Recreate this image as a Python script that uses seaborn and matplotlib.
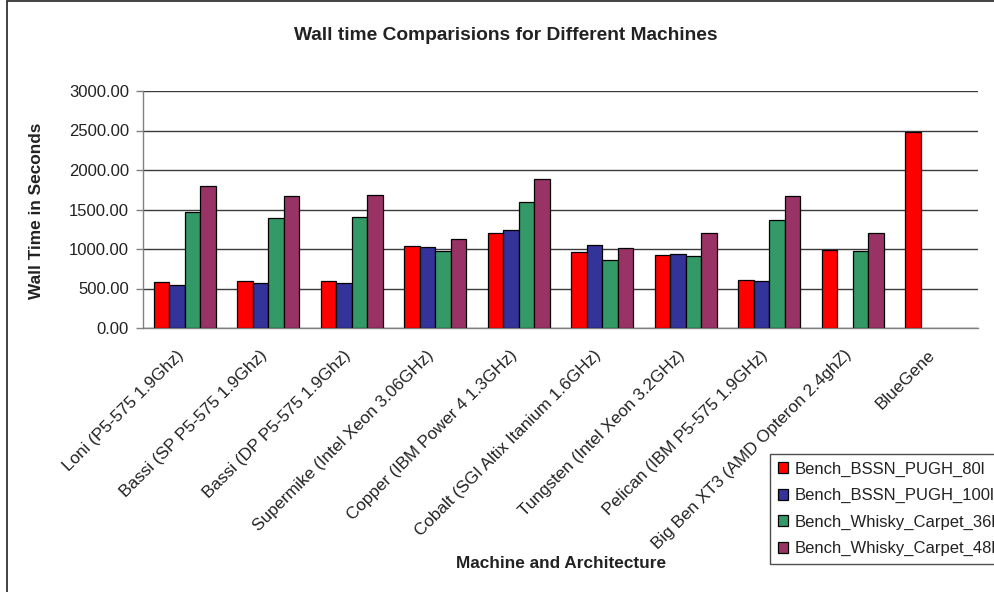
import matplotlib
matplotlib.use("Agg")
import matplotlib.pyplot as plt
import matplotlib.patches as mpatches
import matplotlib.transforms as mtransforms
import numpy as np
import pandas as pd
import seaborn as sns

machines = [
    "Loni (P5-575 1.9Ghz)",
    "Bassi (SP P5-575 1.9Ghz)",
    "Bassi (DP P5-575 1.9Ghz)",
    "Supermike (Intel Xeon 3.06GHz)",
    "Copper (IBM Power 4 1.3GHz)",
    "Cobalt (SGI Altix Itanium 1.6GHz)",
    "Tungsten (Intel Xeon 3.2GHz)",
    "Pelican (IBM P5-575 1.9GHz)",
    "Big Ben XT3 (AMD Opteron 2.4ghZ)",
    "BlueGene",
]
benchmarks = [
    "Bench_BSSN_PUGH_80l",
    "Bench_BSSN_PUGH_100l",
    "Bench_Whisky_Carpet_36l",
    "Bench_Whisky_Carpet_48l",
]
bssn_80 = [583, 596, 596, 1039, 1204, 963, 925, 613, 993, 2476]
bssn_100 = [545, 566, 566, 1027, 1242, 1056, 942, 596, np.nan, np.nan]
whisky_36 = [1470, 1390, 1407, 976, 1597, 862, 913, 1373, 976, np.nan]
whisky_48 = [1800, 1669, 1686, 1128, 1888, 1010, 1204, 1669, 1204, np.nan]
colors = ["#FF0000", "#333399", "#339966", "#993366"]

series = [bssn_80, bssn_100, whisky_36, whisky_48]
rows = []
for bench, vals in zip(benchmarks, series):
    for m, v in zip(machines, vals):
        rows.append({"Machine": m, "Benchmark": bench, "Time": v})
df = pd.DataFrame(rows)

sns.set_style("white")
plt.rcParams["font.family"] = ["Liberation Sans", "DejaVu Sans"]
text_color = "#222222"

fig = plt.figure(figsize=(9.94, 5.92), dpi=100)
ax = fig.add_axes([143 / 994, 1 - 328 / 592, (978 - 143) / 994, (328 - 91) / 592])

sns.barplot(
    data=df, x="Machine", y="Time", hue="Benchmark",
    order=machines, hue_order=benchmarks, palette=colors,
    width=0.74, edgecolor="black", linewidth=0.9, saturation=1,
    ax=ax, legend=True, zorder=3,
)

ax.set_ylim(0, 3000)
ax.set_xlim(-0.5, len(machines) - 0.5)
ax.set_yticks(np.arange(0, 3001, 500))
ax.set_yticklabels([f"{v:.2f}" for v in np.arange(0, 3001, 500)],
                   fontsize=12, color=text_color)
ax.yaxis.grid(True, color="#3a3a3a", linewidth=1.0, zorder=0)
ax.set_axisbelow(True)

ax.set_xticks(np.arange(len(machines)))
ax.set_xticklabels(machines, rotation=45, ha="right", va="top",
                   rotation_mode="anchor", fontsize=12.3, color=text_color)
ax.tick_params(axis="x", which="major", length=0, pad=14)
shift = mtransforms.ScaledTranslation(-9 / 100, 0, fig.dpi_scale_trans)
for lbl in ax.get_xticklabels():
    lbl.set_transform(lbl.get_transform() + shift)
ax.set_xticks(np.arange(-0.5, len(machines)), minor=True)
ax.tick_params(axis="x", which="minor", length=5, direction="out",
               color="#808080", width=1)
ax.tick_params(axis="y", length=5, direction="out", color="#808080",
               width=1, left=True, pad=5)

for side in ["top", "right"]:
    ax.spines[side].set_visible(False)
for side in ["left", "bottom"]:
    ax.spines[side].set_color("#808080")
    ax.spines[side].set_linewidth(1.0)

ax.set_xlabel("Machine and Architecture", fontsize=12.4, fontweight="bold",
              color=text_color)
ax.xaxis.label.set_verticalalignment("center")
ax.xaxis.set_label_coords(561 / 994, 1 - 564 / 592, transform=fig.transFigure)
ax.set_ylabel("Wall Time in Seconds", fontsize=12.4, fontweight="bold",
              color=text_color)
ax.yaxis.set_label_coords(44 / 994, 1 - 211 / 592, transform=fig.transFigure)

fig.text(506 / 994, 1 - 36 / 592, "Wall time Comparisions for Different Machines",
         ha="center", va="center", fontsize=13.8, fontweight="bold",
         color=text_color)

handles, labels = ax.get_legend_handles_labels()
ax.legend_.remove()
leg = fig.legend(
    handles, labels, loc="upper left",
    bbox_to_anchor=(770 / 994, 1 - 454 / 592), bbox_transform=fig.transFigure,
    fontsize=12, frameon=True, fancybox=False, borderpad=0.45,
    handlelength=0.65, handleheight=0.65, handletextpad=0.35, labelspacing=0.68,
    borderaxespad=0,
)
leg.get_frame().set_edgecolor("#222222")
leg.get_frame().set_linewidth(1.0)
for t in leg.get_texts():
    t.set_color(text_color)

# outer chart border
fig.patches.append(mpatches.Rectangle(
    (7 / 994, -0.1), 1.2, 1.1 - 1 / 592, transform=fig.transFigure,
    fill=False, edgecolor="#222222", linewidth=1.2, zorder=0,
))

fig.savefig("out.png", dpi=100)
